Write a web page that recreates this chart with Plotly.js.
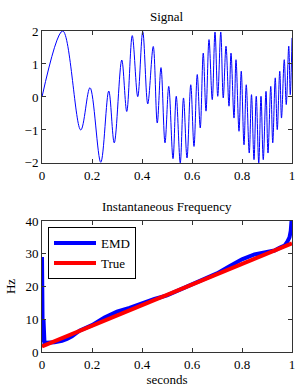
<!DOCTYPE html>
<html>
<head>
<meta charset="utf-8">
<script src="https://cdn.plot.ly/plotly-3.0.1.min.js"></script>
<style>html,body{margin:0;padding:0;background:#fff;}#chart{width:302px;height:391px;}</style>
</head>
<body>
<div id="chart"></div>
<script>
// Signal: extrema (seconds, amplitude)
var sigT = [0, 0.083, 0.155, 0.192, 0.235, 0.267, 0.289, 0.319, 0.339, 0.361, 0.383, 0.403, 0.423, 0.445, 0.461, 0.476, 0.492, 0.507, 0.524, 0.537, 0.553, 0.566, 0.580, 0.595, 0.608, 0.621, 0.633, 0.645, 0.656, 0.668, 0.681, 0.692, 0.703, 0.715, 0.725, 0.736, 0.748, 0.756, 0.768, 0.776, 0.788, 0.797, 0.808, 0.817, 0.829, 0.838, 0.848, 0.857, 0.867, 0.876, 0.885, 0.896, 0.904, 0.915, 0.923, 0.933, 0.941, 0.951, 0.958, 0.969, 0.977, 0.987, 0.993, 1.0];
var sigV = [0, 2.0, -1.0, 0.28, -1.98, 0.18, -1.39, 1.12, -0.44, 1.86, 0.01, 1.98, -0.21, 1.53, -0.79, 0.89, -1.39, 0.32, -1.87, 0.02, -2.0, -0.03, -1.85, 0.37, -1.5, 0.68, -0.94, 1.33, -0.43, 1.74, -0.08, 1.97, 0.02, 1.97, -0.03, 1.54, -0.28, 1.33, -0.64, 1.13, -1.04, 0.78, -1.45, 0.37, -1.7, 0.07, -1.9, 0.02, -2.0, 0.02, -1.9, 0.17, -1.7, 0.32, -1.39, 0.58, -0.99, 0.78, -0.64, 1.13, -0.23, 1.54, 0.07, 1.79];

// Instantaneous frequency (Hz)
var emdT = [0, 0.003, 0.006, 0.01, 0.02, 0.05, 0.08, 0.10, 0.12, 0.15, 0.20, 0.25, 0.30, 0.35, 0.40, 0.45, 0.50, 0.55, 0.60, 0.65, 0.70, 0.75, 0.80, 0.85, 0.90, 0.93, 0.95, 0.97, 0.98, 0.99, 0.995, 1.0];
var emdHz = [29, 3, 10, 2.5, 2.8, 3.0, 3.4, 4.0, 4.8, 6.5, 8.2, 10.5, 12.3, 13.5, 15.0, 16.2, 17.3, 19.0, 20.5, 22.1, 24.0, 26.2, 28.3, 29.8, 30.5, 31.0, 31.8, 32.5, 33.5, 35.0, 37.0, 42.0];
var trueT = [0, 0.5, 1.0];
var trueHz = [1.7, 17.4, 33.2];

var xTicks = [0, 0.2, 0.4, 0.6, 0.8, 1];
var xTickText = ['0', '0.2', '0.4', '0.6', '0.8', '1'];
var topYTicks = [-2, -1, 0, 1, 2];
var botYTicks = [0, 10, 20, 30, 40];

var titleTop = 'Signal';
var titleBot = 'Instantaneous Frequency';

var F = 'Liberation Serif, Times New Roman, serif';
var axisCommon = {
  showline: true, linecolor: '#333', linewidth: 1, mirror: 'ticks',
  ticks: 'inside', ticklen: 4, tickcolor: '#333', tickwidth: 1,
  showgrid: false, zeroline: false,
  tickfont: {family: F, size: 13, color: '#000'}
};

var traces = [
  {x: sigT, y: sigV, type: 'scatter', mode: 'lines', line: {color: '#0000ff', width: 1, shape: 'spline', smoothing: 1},
   xaxis: 'x', yaxis: 'y', showlegend: false},
  {x: emdT, y: emdHz, type: 'scatter', mode: 'lines', name: 'EMD', line: {color: '#0000ff', width: 4},
   xaxis: 'x2', yaxis: 'y2'},
  {x: trueT, y: trueHz, type: 'scatter', mode: 'lines', name: 'True', line: {color: '#ff0000', width: 4},
   xaxis: 'x2', yaxis: 'y2'}
];

var layout = {
  width: 302, height: 391,
  margin: {l: 42, r: 10, t: 31, b: 39},
  paper_bgcolor: '#fff', plot_bgcolor: '#fff',
  font: {family: F, size: 13, color: '#000'},
  xaxis: Object.assign({}, axisCommon, {domain: [0, 1], range: [0, 1], tickvals: xTicks, ticktext: xTickText, anchor: 'y'}),
  yaxis: Object.assign({}, axisCommon, {domain: [0.589, 1], range: [-2, 2], tickvals: topYTicks, anchor: 'x'}),
  xaxis2: Object.assign({}, axisCommon, {domain: [0, 1], range: [0, 1], tickvals: xTicks, ticktext: xTickText, anchor: 'y2',
    title: {text: 'seconds', font: {family: F, size: 13, color: '#000'}, standoff: 2}}),
  yaxis2: Object.assign({}, axisCommon, {domain: [0, 0.408], range: [0, 40], tickvals: botYTicks, anchor: 'x2',
    title: {text: 'Hz', font: {family: F, size: 13, color: '#000'}, standoff: 6}}),
  showlegend: true,
  legend: {x: 0.024, y: 0.389, xanchor: 'left', yanchor: 'top', bgcolor: '#fff', bordercolor: '#000', borderwidth: 1,
    itemwidth: 42, font: {family: F, size: 13, color: '#000'}, tracegroupgap: 0},
  annotations: [
    {text: titleTop, xref: 'paper', yref: 'paper', x: 0.5, y: 1, xanchor: 'center', yanchor: 'bottom', yshift: 5, showarrow: false,
     font: {family: F, size: 13, color: '#000'}},
    {text: titleBot, xref: 'paper', yref: 'paper', x: 0.5, y: 0.408, xanchor: 'center', yanchor: 'bottom', yshift: 5, showarrow: false,
     font: {family: F, size: 13, color: '#000'}}
  ]
};

Plotly.newPlot('chart', traces, layout, {staticPlot: true, displayModeBar: false});
</script>
</body>
</html>
